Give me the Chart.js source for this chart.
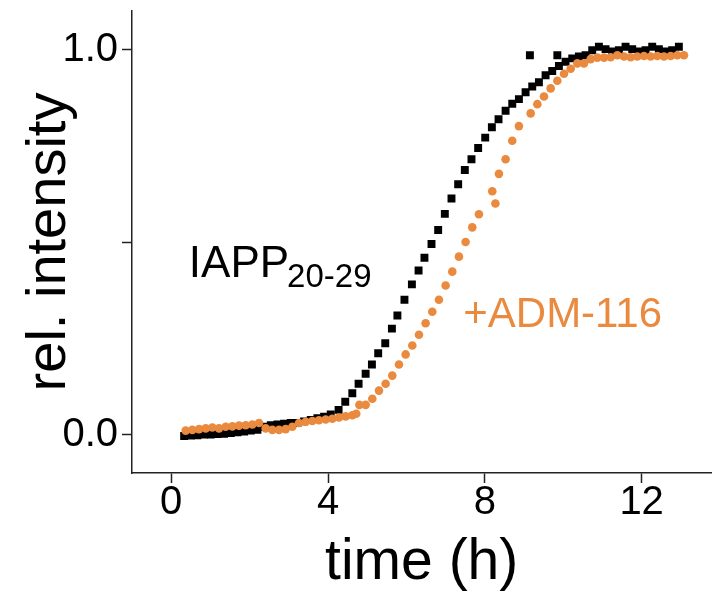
<!DOCTYPE html>
<html>
<head>
<meta charset="utf-8">
<script src="https://cdn.jsdelivr.net/npm/chart.js@4.4.0/dist/chart.umd.min.js"></script>
<style>
  html, body { margin: 0; padding: 0; background: #fff; }
</style>
</head>
<body>
<canvas id="chart" width="717" height="596"></canvas>
<script>
// IAPP20-29 alone (black squares)
const iappTime = [0.33, 0.50, 0.67, 0.84, 1.01, 1.18, 1.35, 1.52, 1.69, 1.86, 2.03, 2.20, 2.37, 2.54, 2.71, 2.88,
  3.05, 3.22, 3.39, 3.56, 3.73, 3.90, 4.07, 4.27, 4.44, 4.62, 4.78, 4.96, 5.12, 5.28, 5.46, 5.63, 5.77, 5.95,
  6.14, 6.31, 6.46, 6.64, 6.81, 6.98, 7.15, 7.32, 7.49, 7.66, 7.83, 8.01, 8.18, 8.35, 8.53, 8.70, 8.87, 9.04,
  9.15, 9.21, 9.38, 9.55, 9.72, 9.85, 9.89, 10.06, 10.23, 10.40, 10.57, 10.74, 10.91, 11.08, 11.25, 11.42,
  11.59, 11.76, 11.93, 12.10, 12.27, 12.44, 12.61, 12.78, 12.95];
const iappValue = [-0.004, -0.003, -0.002, 0.000, 0.000, 0.001, 0.002, 0.004, 0.006, 0.008, 0.010, 0.012, 0.020, 0.024, 0.026, 0.028,
  0.030, 0.030, 0.034, 0.038, 0.042, 0.046, 0.052, 0.064, 0.085, 0.107, 0.132, 0.158, 0.182, 0.211, 0.237, 0.275, 0.309, 0.350,
  0.390, 0.426, 0.459, 0.495, 0.531, 0.573, 0.613, 0.650, 0.687, 0.715, 0.744, 0.771, 0.798, 0.819, 0.841, 0.859, 0.871, 0.889,
  0.985, 0.904, 0.915, 0.933, 0.944, 0.985, 0.957, 0.968, 0.977, 0.982, 0.985, 0.998, 1.007, 1.001, 0.995, 0.998,
  1.007, 1.001, 0.995, 0.998, 1.007, 1.001, 0.995, 0.998, 1.007];

// with ADM-116 (orange circles)
const admTime = [0.37, 0.54, 0.71, 0.88, 1.05, 1.22, 1.39, 1.56, 1.73, 1.90, 2.07, 2.24, 2.41, 2.58, 2.75, 2.92,
  3.09, 3.26, 3.43, 3.60, 3.77, 3.94, 4.11, 4.28, 4.45, 4.62, 4.72, 4.80, 4.96, 5.13, 5.30, 5.47, 5.64, 5.81,
  5.98, 6.15, 6.32, 6.49, 6.66, 6.83, 7.00, 7.17, 7.34, 7.51, 7.68, 7.85, 8.19, 8.27, 8.36, 8.53, 8.70, 8.87,
  9.17, 9.34, 9.51, 9.68, 9.85, 10.02, 10.19, 10.36, 10.53, 10.70, 10.87, 11.04, 11.21, 11.38, 11.55, 11.72,
  11.89, 12.06, 12.23, 12.40, 12.57, 12.74, 12.91, 13.08];
const admValue = [0.010, 0.012, 0.014, 0.016, 0.018, 0.016, 0.020, 0.021, 0.023, 0.024, 0.026, 0.030, 0.016, 0.012, 0.012, 0.014,
  0.020, 0.030, 0.033, 0.035, 0.037, 0.039, 0.041, 0.044, 0.047, 0.050, 0.054, 0.077, 0.077, 0.093, 0.114, 0.132, 0.153, 0.182,
  0.208, 0.231, 0.259, 0.289, 0.319, 0.350, 0.387, 0.423, 0.462, 0.500, 0.538, 0.572, 0.632, 0.600, 0.677, 0.715, 0.763, 0.801,
  0.834, 0.858, 0.878, 0.899, 0.919, 0.937, 0.950, 0.964, 0.964, 0.975, 0.979, 0.979, 0.980, 0.985, 0.982, 0.980,
  0.982, 0.983, 0.982, 0.983, 0.982, 0.983, 0.985, 0.985];

const xTicks = [0, 4, 8, 12];
const yTicks = [0, 0.5, 1];
const yTickLabels = ["0.0", "", "1.0"];

const FONT = "'Liberation Sans', Arial, Helvetica, sans-serif";
const ORANGE = "#E98A3F";

function toPoints(xs, ys) {
  return xs.map((t, i) => ({ x: t, y: ys[i] }));
}

// curve labels drawn on the canvas
const curveLabels = {
  id: "curveLabels",
  afterDatasetsDraw(chart) {
    const { ctx, scales: { x, y } } = chart;
    ctx.save();
    ctx.textBaseline = "alphabetic";
    ctx.textAlign = "left";

    ctx.fillStyle = "#000";
    ctx.font = "44px " + FONT;
    const lx = x.getPixelForValue(0.45);
    const ly = y.getPixelForValue(0.408);
    ctx.fillText("IAPP", lx, ly);
    const w = ctx.measureText("IAPP").width;
    ctx.font = "33px " + FONT;
    ctx.fillText("20-29", lx + w - 2, ly + 10);

    ctx.fillStyle = ORANGE;
    ctx.font = "42px " + FONT;
    ctx.fillText("+ADM-116", x.getPixelForValue(7.45), y.getPixelForValue(0.278));
    ctx.restore();
  }
};

const axisStyle = {
  grid: { display: true, drawOnChartArea: false, drawTicks: true, tickLength: 10, tickWidth: 1.5, tickColor: "#222" },
  border: { display: true, color: "#222", width: 1.5 }
};

new Chart(document.getElementById("chart"), {
  type: "scatter",
  data: {
    datasets: [
      {
        label: "+ADM-116",
        data: toPoints(admTime, admValue),
        pointStyle: "circle",
        pointRadius: 4.3,
        pointBorderWidth: 0,
        backgroundColor: ORANGE,
        order: 0
      },
      {
        label: "IAPP20-29",
        data: toPoints(iappTime, iappValue),
        pointStyle: "rect",
        pointRadius: 5.6,
        pointBorderWidth: 0,
        backgroundColor: "#000",
        order: 1
      }
    ]
  },
  options: {
    responsive: false,
    animation: false,
    layout: { padding: { top: 11, right: -5, bottom: 0, left: 0 } },
    plugins: { legend: { display: false }, tooltip: { enabled: false } },
    scales: {
      x: {
        type: "linear",
        min: -1,
        max: 13.78,
        afterBuildTicks: s => { s.ticks = xTicks.map(v => ({ value: v })); },
        afterFit: s => { s.height = 123; s.paddingLeft = 0; s.paddingRight = 0; },
        ticks: { color: "#000", padding: -4, maxRotation: 0, font: { family: FONT, size: 40 } },
        title: { display: true, text: "time (h)", color: "#000", font: { family: FONT, size: 57, lineHeight: 1 }, padding: { top: 0, bottom: 4 } },
        ...axisStyle
      },
      y: {
        type: "linear",
        min: -0.1,
        max: 1.1,
        afterBuildTicks: s => { s.ticks = yTicks.map(v => ({ value: v })); },
        afterFit: s => { s.width = 132; s.paddingTop = 0; s.paddingBottom = 0; },
        ticks: { color: "#000", padding: 4, font: { family: FONT, size: 40 }, callback: (v, i) => yTickLabels[i] },
        title: { display: true, text: "rel. intensity", color: "#000", font: { family: FONT, size: 56, lineHeight: 1 }, padding: { top: 22, bottom: 0 } },
        ...axisStyle
      }
    }
  },
  plugins: [curveLabels]
});
</script>
</body>
</html>
